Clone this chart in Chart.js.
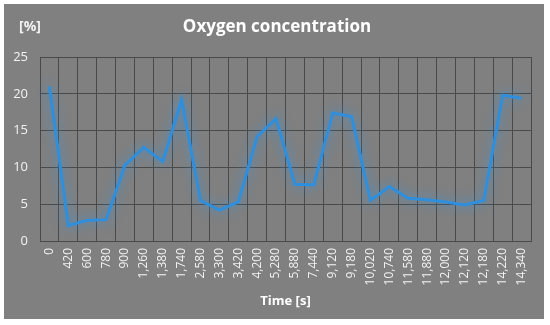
<!DOCTYPE html>
<html>
<head>
<meta charset="utf-8">
<script src="https://cdn.jsdelivr.net/npm/chart.js@4"></script>
<style>
  html, body { margin: 0; padding: 0; background: #fff; }
  #wrap { width: 550px; height: 325px; }
</style>
</head>
<body>
<div id="wrap"><canvas id="c"></canvas></div>
<script>
var timeLabels = ['0', '420', '600', '780', '900', '1,260', '1,380', '1,740', '2,580', '3,300',
    '3,420', '4,200', '5,280', '5,880', '7,440', '9,120', '9,180', '10,020', '10,740', '11,580',
    '11,880', '12,000', '12,120', '12,180', '14,220', '14,340'];
var oxygen = [21.0, 2.1, 2.8, 2.9, 10.3, 12.7, 10.8, 19.2, 5.5, 4.2,
    5.3, 14.2, 16.6, 7.7, 7.6, 17.4, 16.9, 5.5, 7.4, 5.8,
    5.6, 5.3, 4.9, 5.5, 19.8, 19.4];
var yTicks = [0, 5, 10, 15, 20, 25];

var FONT = '"Open Sans", "Liberation Sans", sans-serif';
var TEXT = '#f2f2f2';
var GRID = '#4a4a4a';

// grey panel + titles drawn on the canvas
var frame = {
    id: 'frame',
    beforeDraw: function (chart) {
        var ctx = chart.ctx;
        ctx.save();
        ctx.fillStyle = '#808080';
        ctx.fillRect(4, 4, 540, 315);
        ctx.restore();
    },
    afterDraw: function (chart) {
        var ctx = chart.ctx, a = chart.chartArea;
        ctx.save();
        ctx.fillStyle = '#ffffff';
        ctx.textBaseline = 'middle';
        ctx.textAlign = 'center';
        ctx.font = 'bold 17px ' + FONT;
        ctx.fillText('Oxygen concentration', 277, 27);
        ctx.font = 'bold 13px ' + FONT;
        ctx.fillText('Time [s]', (a.left + a.right) / 2, 301);
        ctx.textAlign = 'left';
        ctx.font = 'bold 14px ' + FONT;
        ctx.fillStyle = TEXT;
        ctx.fillText('[%]', 19, 27);
        ctx.restore();
    }
};

// soft blue glow under the line, like the office chart
var glow = {
    id: 'glow',
    beforeDatasetsDraw: function (chart) {
        var ctx = chart.ctx;
        ctx.save();
        ctx.shadowColor = 'rgba(45, 150, 235, 0.8)';
        ctx.shadowBlur = 12;
    },
    afterDatasetsDraw: function (chart) { chart.ctx.restore(); }
};

new Chart(document.getElementById('c'), {
    type: 'line',
    data: {
        labels: timeLabels,
        datasets: [{
            data: oxygen,
            borderColor: '#2f8fdc',
            borderWidth: 3,
            pointRadius: 0,
            tension: 0,
            fill: false
        }]
    },
    options: {
        responsive: true,
        maintainAspectRatio: false,
        animation: false,
        layout: { padding: { left: 4, top: 57, right: 19, bottom: 0 } },
        plugins: { legend: { display: false }, tooltip: { enabled: false } },
        scales: {
            x: {
                offset: true,
                grid: { offset: true, color: GRID, lineWidth: 1, drawTicks: false },
                border: { color: GRID, width: 1 },
                ticks: {
                    color: TEXT, font: { family: FONT, size: 12 },
                    minRotation: 90, maxRotation: 90, autoSkip: false, padding: 7
                },
                afterFit: function (s) { s.height = 84; }
            },
            y: {
                min: 0, max: 25,
                afterBuildTicks: function (s) { s.ticks = yTicks.map(function (v) { return { value: v }; }); },
                grid: { color: GRID, lineWidth: 1, drawTicks: false },
                border: { color: GRID, width: 1 },
                ticks: { color: TEXT, font: { family: FONT, size: 13 }, padding: 12 },
                afterFit: function (s) { s.width = 36; }
            }
        }
    },
    plugins: [frame, glow]
});
</script>
</body>
</html>
